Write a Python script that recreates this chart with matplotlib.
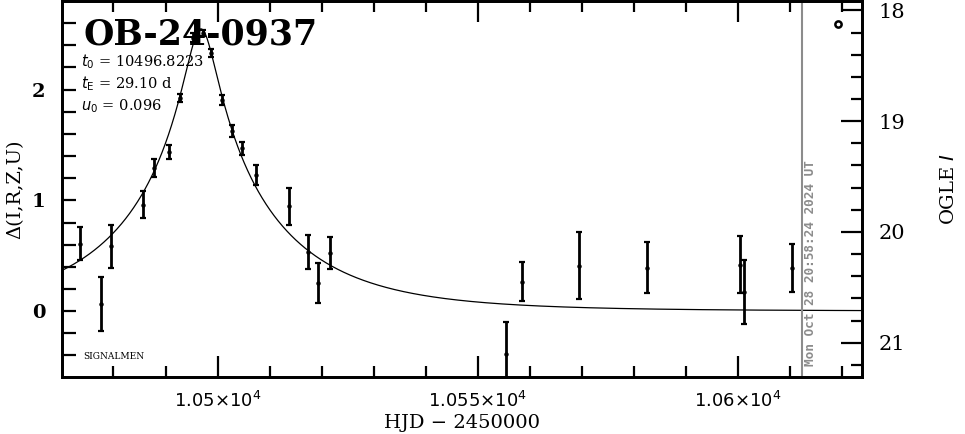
import numpy as np
import matplotlib
matplotlib.use("Agg")
import matplotlib.pyplot as plt
from matplotlib.ticker import MultipleLocator, FixedLocator

# ---- data ----
hjd = [10473.6, 10477.6, 10479.6, 10485.7, 10487.7, 10490.7, 10492.75, 10495.2,
       10497.2, 10498.7, 10500.8, 10502.7, 10504.7, 10507.4, 10513.7, 10517.4,
       10519.4, 10521.7, 10555.4, 10558.6, 10569.5, 10582.5, 10600.4, 10601.3,
       10610.5]
delta = [0.61, 0.063, 0.585, 0.96, 1.29, 1.435, 1.925, 2.47,
         2.51, 2.33, 1.907, 1.63, 1.47, 1.225, 0.946, 0.534,
         0.25, 0.525, -0.39, 0.264, 0.41, 0.39, 0.42, 0.174,
         0.39]
err = [0.145, 0.245, 0.194, 0.12, 0.08, 0.063, 0.033, 0.04,
       0.03, 0.033, 0.045, 0.054, 0.057, 0.09, 0.168, 0.15,
       0.18, 0.142, 0.29, 0.177, 0.30, 0.23, 0.26, 0.29,
       0.215]
extra_t = [10619.2]
extra_d = [2.595]

# model parameters
t0 = 10496.8223
tE = 29.10
u0 = 0.096
I_base = 20.715
now_hjd = 10612.37
date_text = "Mon Oct 28 20:58:24 2024 UT"
event = "OB-24-0937"
xticks = [10500, 10550, 10600]
xtick_labels = [r"$1.05{\times}10^4$", r"$1.055{\times}10^4$", r"$1.06{\times}10^4$"]

xlim = (10470.1, 10623.9)
ylim = (-0.595, 2.80)

plt.rcParams['font.family'] = ['DejaVu Serif']
plt.rcParams['mathtext.fontset'] = 'dejavusans'

fig = plt.figure(figsize=(9.65, 4.34), dpi=100)
ax = fig.add_axes([62/965, 1 - 377/434, 800/965, 376/434])

tt = np.linspace(xlim[0], xlim[1], 2000)
uu = np.sqrt(u0**2 + ((tt - t0) / tE)**2)
A = (uu**2 + 2) / (uu * np.sqrt(uu**2 + 4))
ax.plot(tt, 2.5 * np.log10(A), color='black', lw=0.9)

ax.errorbar(hjd, delta, yerr=err, fmt='o', ms=2.2, color='black', ecolor='black',
            elinewidth=2.0, capsize=2.2, capthick=1.6)
ax.plot(extra_t, extra_d, 'o', mfc='white', mec='black', ms=4.5, mew=1.8)

ax.axvline(now_hjd, color='#8c8c8c', lw=1.5)
ax.text(now_hjd + 0.3, ylim[0] + 0.1, date_text, rotation=90, color='#8c8c8c',
        fontsize=9.2, fontweight='bold', family='DejaVu Sans Mono',
        ha='left', va='bottom')

ax.set_xlim(*xlim)
ax.set_ylim(*ylim)

ax.xaxis.set_major_locator(FixedLocator(xticks))
ax.set_xticklabels(xtick_labels, fontsize=13)
ax.xaxis.set_minor_locator(MultipleLocator(10))
ax.yaxis.set_major_locator(MultipleLocator(1))
ax.yaxis.set_minor_locator(MultipleLocator(0.2))
ax.tick_params(which='both', direction='in', top=True, right=False, width=1.6)
ax.tick_params(which='major', length=15)
ax.tick_params(which='minor', length=8)
ax.tick_params(axis='y', which='both', length=10)
ax.tick_params(axis='x', pad=10)
ax.tick_params(axis='y', pad=12)
for lab in ax.get_yticklabels():
    lab.set_fontsize(14)
    lab.set_fontweight('bold')
for s in ax.spines.values():
    s.set_linewidth(2.0)

ax.set_xlabel("HJD − 2450000", fontsize=14, labelpad=2)
ax.set_ylabel("Δ(I,R,Z,U)", fontsize=14, labelpad=5)

# right axis in OGLE I magnitude
ax2 = ax.twinx()
ax2.set_ylim(I_base - ylim[0], I_base - ylim[1])
ax2.yaxis.set_major_locator(MultipleLocator(1))
ax2.yaxis.set_minor_locator(MultipleLocator(0.2))
ax2.tick_params(which='both', direction='in', width=1.6)
ax2.tick_params(which='major', length=15, labelsize=15, pad=12)
ax2.tick_params(which='minor', length=8)
ax2.set_ylabel(r"OGLE $\mathit{I}$", fontsize=14, labelpad=25)
for s in ax2.spines.values():
    s.set_linewidth(2.0)

ax.text(0.027, 0.955, event, transform=ax.transAxes, fontsize=25,
        fontweight='bold', ha='left', va='top')
ax.text(0.024, 0.84, r"$t_0$ = 10496.8223", transform=ax.transAxes, fontsize=10.5, va='center')
ax.text(0.024, 0.78, r"$t_{\rm E}$ = 29.10 d", transform=ax.transAxes, fontsize=10.5, va='center')
ax.text(0.024, 0.72, r"$u_0$ = 0.096", transform=ax.transAxes, fontsize=10.5, va='center')
ax.text(0.027, 0.055, "SIGNALMEN", transform=ax.transAxes, fontsize=6.5, va='center')

fig.savefig("out.png", dpi=100)
